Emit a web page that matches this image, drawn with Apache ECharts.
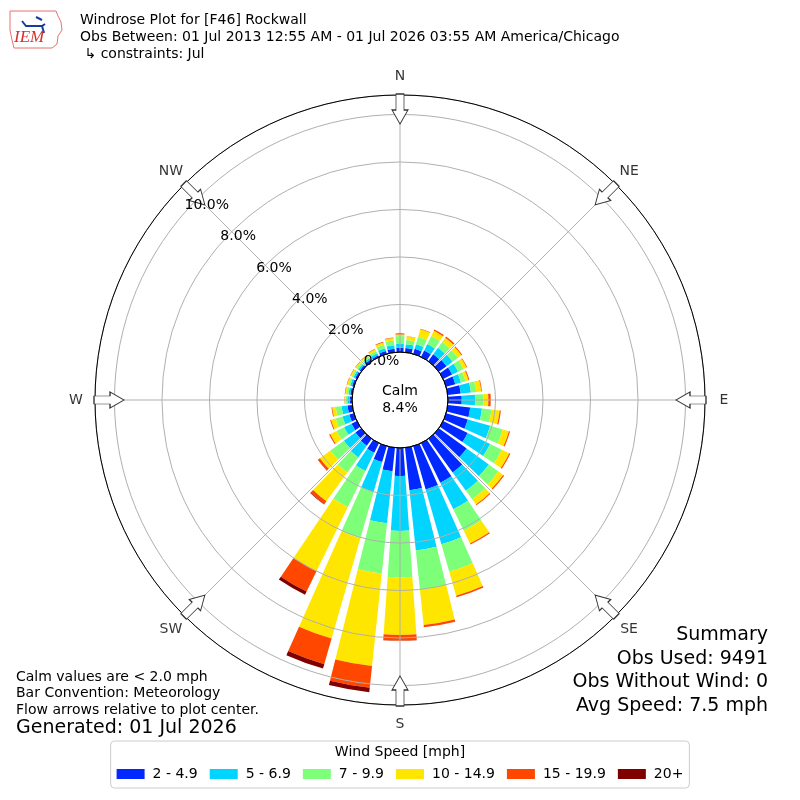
<!DOCTYPE html>
<html><head><meta charset="utf-8">
<script src="https://cdn.jsdelivr.net/npm/echarts@6/dist/echarts.min.js"></script>
<style>html,body{margin:0;padding:0;background:#fff}#c{width:800px;height:800px}</style>
</head><body><div id="c"></div>
<script>
// ---- data (percent of observations) ----
const directions = ['0','10','20','30','40','50','60','70','80','90','100','110','120','130','140','150','160','170',
  '180','190','200','210','220','230','240','250','260','270','280','290','300','310','320','330','340','350'];
const speedBins = ['2 - 4.9','5 - 6.9','7 - 9.9','10 - 14.9','15 - 19.9','20+'];
const spd2to5   = [0.18,0.18,0.22,0.30,0.36,0.40,0.42,0.40,0.55,0.58,0.95,0.95,1.15,1.45,1.75,1.85,1.90,1.80,
                   1.18,1.00,0.70,0.45,0.36,0.30,0.25,0.20,0.20,0.10,0.08,0.08,0.08,0.08,0.09,0.08,0.12,0.15];
const spd5to7   = [0.18,0.16,0.20,0.30,0.34,0.32,0.28,0.25,0.43,0.56,0.50,0.98,1.05,1.15,0.95,1.25,2.40,2.55,
                   2.31,2.20,1.30,0.85,0.61,0.60,0.35,0.30,0.25,0.10,0.08,0.08,0.08,0.08,0.08,0.09,0.13,0.15];
const spd7to10  = [0.31,0.18,0.33,0.38,0.30,0.28,0.25,0.20,0.22,0.35,0.40,0.55,0.55,0.50,0.45,1.00,1.20,1.65,
                   1.96,2.12,2.03,1.70,0.78,0.70,0.35,0.30,0.25,0.07,0.08,0.08,0.08,0.08,0.08,0.11,0.15,0.20];
const spd10to15 = [0.07,0.15,0.33,0.24,0.22,0.18,0.15,0.13,0.22,0.21,0.35,0.27,0.35,0.25,0.27,0.60,1.05,1.50,
                   2.42,3.92,4.40,3.00,1.50,0.55,0.30,0.20,0.15,0.04,0.06,0.06,0.06,0.06,0.06,0.08,0.10,0.10];
const spd15to20 = [0.04,0.01,0.02,0.06,0.06,0.04,0.03,0.04,0.03,0.10,0.05,0.05,0.05,0.05,0.04,0.05,0.07,0.10,
                   0.24,0.92,1.12,0.95,0.15,0.10,0.05,0.04,0.03,0.01,0.02,0.02,0.02,0.02,0.02,0.02,0.03,0.03];
const spd20up   = [0,0,0,0,0,0,0,0,0,0,0,0,0,0,0,0,0,0,
                   0.01,0.19,0.19,0.15,0.02,0.01,0,0,0,0,0,0,0,0,0,0,0,0];
const compassNames  = ['N','NE','E','SE','S','SW','W','NW'];
const compassAngles = [0,45,90,135,180,225,270,315];
const radiusTicks   = [0,2,4,6,8,10];
const calmPercent = 8.4;
const summaryLines = ['Summary','Obs Used: 9491','Obs Without Wind: 0','Avg Speed: 7.5 mph'];
const noteLines = ['Calm values are < 2.0 mph','Bar Convention: Meteorology','Flow arrows relative to plot center.'];
const generatedText = 'Generated: 01 Jul 2026';
const titleLines = ['Windrose Plot for [F46] Rockwall',
  'Obs Between: 01 Jul 2013 12:55 AM - 01 Jul 2026 03:55 AM America/Chicago',
  ' \u21b3 constraints: Jul'];

// ---- styles ----
const FONT = 'DejaVu Sans';
const colors = ['#0028ff','#00d4ff','#7dff7a','#ffe600','#ff4700','#800000'];
const RMAX = 10.82, R_IN = 48, R_OUT = 305, R_LABEL = 324, ARROW_R = 10.23;
const gridColor = '#b0b0b0';
const seriesValues = [spd2to5, spd5to7, spd7to10, spd10to15, spd15to20, spd20up];

const chart = echarts.init(document.getElementById('c'), null, {renderer:'canvas'});
const hidden = {axisLine:{show:false},axisTick:{show:false},axisLabel:{show:false},splitLine:{show:false},splitArea:{show:false}};

const barSeries = speedBins.map((name,i)=>({
  type:'bar', name, coordinateSystem:'polar', polarIndex:0, stack:'wind',
  data: seriesValues[i], barCategoryGap:'20%', z:2, silent:true,
  itemStyle:{color:colors[i]}
}));

const arrowPath = 'path://M8,0 L16,14 L12,14 L12,30 L4,30 L4,14 L0,14 Z';

function txt(x,y,text,size,align,extra){
  return Object.assign({type:'text', x, y, z:20, silent:true, style:{text, fill:'#000',
    font: size+'px "'+FONT+'"', textAlign:align||'left', textVerticalAlign:'middle', verticalAlign:'middle'}}, extra||{});
}

const graphics = [];
titleLines.forEach((t,i)=>graphics.push(txt(80, 20+i*17, t, 14)));
noteLines.forEach((t,i)=>graphics.push(txt(16, 677+i*16.5, t, 14)));
graphics.push(txt(16, 728, generatedText, 19));
summaryLines.forEach((t,i)=>graphics.push(txt(768, 635+i*23.7, t, 19, 'right')));
graphics.push(txt(400, 752, 'Wind Speed [mph]', 14, 'center'));
graphics.push({type:'text', x:400, y:400, z:20, silent:true, style:{text:'Calm\n'+calmPercent.toFixed(1)+'%',
  fill:'#000', font:'14px "'+FONT+'"', textAlign:'center', textVerticalAlign:'middle', verticalAlign:'middle', lineHeight:17}});
// IEM logo
graphics.push({type:'polyline', z:20, silent:true, shape:{points:[[10,11],[56,11],[58,16],[61,22],[62,30],[58,36],[57,44],[52,48],[14,48],[12,40],[10,30],[10,11]]},
  style:{stroke:'#e57373', lineWidth:1, fill:null}});
graphics.push({type:'polyline', z:20, silent:true, shape:{points:[[22,21],[26,26],[34,26],[42,26],[45,24]]}, style:{stroke:'#1a3a9e', lineWidth:2, fill:null}});
graphics.push({type:'polyline', z:20, silent:true, shape:{points:[[42,26],[44,33]]}, style:{stroke:'#1a3a9e', lineWidth:2, fill:null}});
graphics.push({type:'polyline', z:20, silent:true, shape:{points:[[36,17],[42,20]]}, style:{stroke:'#1a3a9e', lineWidth:2, fill:null}});
graphics.push({type:'text', x:14, y:38, z:20, silent:true, style:{text:'IEM', fill:'#d32f2f',
  font:'italic 17px "Liberation Serif"', textAlign:'left', textVerticalAlign:'middle', verticalAlign:'middle'}});

const option = {
  animation:false,
  backgroundColor:'#fff',
  color: colors,
  polar:[
    {center:['50%','50%'], radius:[R_IN,R_OUT]},
    {center:['50%','50%'], radius:[R_IN,R_OUT]},
    {center:['50%','50%'], radius:[R_IN,R_OUT]},
    {center:['50%','50%'], radius:[0,R_IN]},
    {center:['50%','50%'], radius:[0,R_LABEL]}
  ],
  angleAxis:[
    Object.assign({polarIndex:0, type:'category', data:directions, startAngle:95, clockwise:true}, hidden),
    Object.assign({polarIndex:1, type:'value', min:0, max:360, interval:45, startAngle:90, clockwise:true, z:3}, hidden,
      {axisLine:{show:true, lineStyle:{color:'#000', width:1}},
       splitLine:{show:true, lineStyle:{color:gridColor, width:1}}}),
    Object.assign({polarIndex:2, type:'value', min:0, max:360, startAngle:139, clockwise:true}, hidden),
    Object.assign({polarIndex:3, type:'value', min:0, max:360, startAngle:90, z:6}, hidden,
      {axisLine:{show:true, lineStyle:{color:'#000', width:1}}}),
    Object.assign({polarIndex:4, type:'value', min:0, max:360, startAngle:90, clockwise:true}, hidden)
  ],
  radiusAxis:[
    Object.assign({polarIndex:0, type:'value', min:0, max:RMAX}, hidden),
    Object.assign({polarIndex:1, type:'value', min:0, max:RMAX, interval:2, z:3}, hidden,
      {splitLine:{show:true, lineStyle:{color:gridColor, width:1}}}),
    Object.assign({polarIndex:2, type:'value', min:0, max:RMAX, interval:2, z:8}, hidden,
      {axisLabel:{show:true, showMaxLabel:false, margin:0, align:'left', verticalAlign:'bottom', color:'#000', fontSize:14, fontFamily:FONT,
        formatter:(v)=>radiusTicks.indexOf(v)>=0 ? v.toFixed(1)+'%' : ''}}),
    Object.assign({polarIndex:3, type:'value', min:0, max:1}, hidden),
    Object.assign({polarIndex:4, type:'value', min:0, max:1}, hidden)
  ],
  legend:{data:speedBins, left:'center', top:741, icon:'rect', itemWidth:28, itemHeight:10, itemGap:12,
    padding:[26,6,7,6], borderColor:'#cccccc', borderWidth:1, borderRadius:4, selectedMode:false,
    textStyle:{fontSize:14, fontFamily:FONT, color:'#000', padding:[0,0,0,3]}},
  series: barSeries.concat([{
    type:'scatter', name:'arrows', coordinateSystem:'polar', polarIndex:1, z:7, silent:true,
    symbol:arrowPath, symbolSize:[16,30],
    itemStyle:{color:'#fff', borderColor:'#333', borderWidth:1, opacity:1},
    data: compassAngles.map(a=>({value:[ARROW_R, a], symbolRotate:180-a}))
  },{
    type:'scatter', name:'compass', coordinateSystem:'polar', polarIndex:4, z:7, silent:true,
    symbolSize:1, itemStyle:{color:'rgba(0,0,0,0)'},
    label:{show:true, position:'inside', color:'#000', fontSize:14, fontFamily:FONT,
      formatter:(p)=>compassNames[p.dataIndex]},
    data: compassAngles.map(a=>[1, a])
  }]),
  graphic: graphics
};
chart.setOption(option);
</script></body></html>
